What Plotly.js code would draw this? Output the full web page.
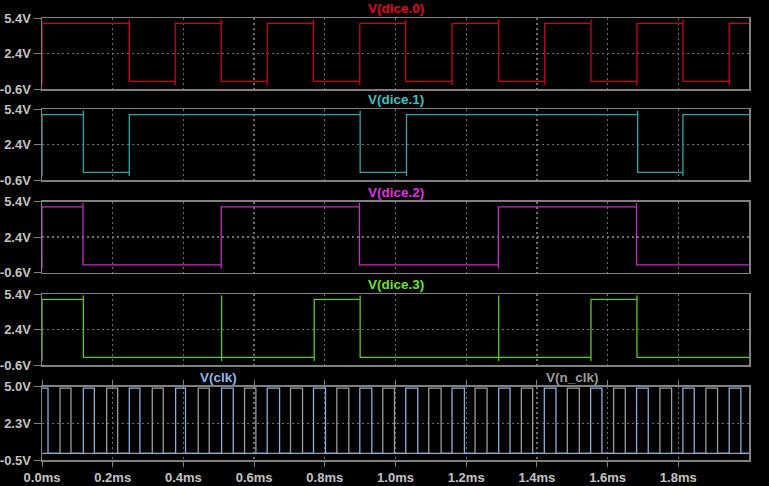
<!DOCTYPE html>
<html>
<head>
<meta charset="utf-8">
<script src="https://cdn.plot.ly/plotly-3.0.1.min.js"></script>
<style>html,body{margin:0;padding:0;background:#000;}#chart{width:769px;height:486px;}</style>
</head>
<body>
<div id="chart"></div>
<script>
// ---- data (times in ms, volts) ----
const xTickVals = [0.0, 0.2, 0.4, 0.6, 0.8, 1.0, 1.2, 1.4, 1.6, 1.8];
const xTickText = ["0.0ms", "0.2ms", "0.4ms", "0.6ms", "0.8ms", "1.0ms", "1.2ms", "1.4ms", "1.6ms", "1.8ms"];
const diceTickVals = [-0.6, 2.4, 5.4];
const diceTickText = ["-0.6V", "2.4V", "5.4V"];
const clkTickVals = [-0.5, 2.25, 5.0];
const clkTickText = ["-0.5V", "2.3V", "5.0V"];

const diceHigh = 4.95;
const diceLow = 0.05;
const clkHigh = 4.9;
const clkLow = 0.0;

// edges where each dice bit toggles (all start high)
const dice0Edges = [0.247, 0.377, 0.507, 0.637, 0.768, 0.899, 1.029, 1.160, 1.292, 1.422, 1.553, 1.683, 1.813, 1.944];
const dice1Edges = [0.117, 0.247, 0.900, 1.031, 1.685, 1.813];
const dice2Edges = [0.116, 0.507, 0.898, 1.291, 1.682];
const dice3Edges = [0.117, 0.770, 0.900, 1.553, 1.683];
const dice3Glitches = [0.508, 1.292];

// clock pulses
const clkRise = [0.0, 0.117, 0.247, 0.378, 0.508, 0.637, 0.768, 0.899, 1.029, 1.160, 1.292, 1.421, 1.552, 1.682, 1.813, 1.944];
const clkFall = [0.017, 0.148, 0.277, 0.406, 0.541, 0.672, 0.802, 0.933, 1.063, 1.195, 1.324, 1.454, 1.584, 1.715, 1.845, 1.977];
const nclkRise = [0.051, 0.183, 0.312, 0.442, 0.573, 0.703, 0.834, 0.964, 1.094, 1.225, 1.356, 1.486, 1.617, 1.748, 1.878];
const nclkFall = [0.082, 0.214, 0.343, 0.473, 0.605, 0.737, 0.868, 0.997, 1.129, 1.259, 1.388, 1.520, 1.650, 1.781, 1.911];

const tEnd = 2.0;
const spike = 0.32;

function diceWave(edges, glitches) {
  const x = [0, 0], y = [diceLow - spike, diceHigh];
  let high = true;
  const events = edges.map(t => ({t, g: false})).concat((glitches || []).map(t => ({t, g: true})));
  events.sort((a, b) => a.t - b.t);
  for (const e of events) {
    const cur = high ? diceHigh : diceLow;
    if (e.g) {
      x.push(e.t, e.t, e.t, e.t);
      y.push(cur, diceHigh + spike, diceLow - spike, cur);
      continue;
    }
    const next = high ? diceLow : diceHigh;
    const over = high ? cur + spike : cur - spike;
    x.push(e.t, e.t, e.t);
    y.push(cur, over, next);
    high = !high;
  }
  x.push(tEnd);
  y.push(high ? diceHigh : diceLow);
  return {x, y};
}

function clkWave(rise, fall, startHigh) {
  const x = [], y = [];
  if (!startHigh) { x.push(0); y.push(clkLow); }
  for (let i = 0; i < rise.length; i++) {
    x.push(rise[i], rise[i], fall[i], fall[i]);
    y.push(clkLow, clkHigh, clkHigh, clkLow);
  }
  x.push(tEnd); y.push(clkLow);
  if (startHigh) { x[0] = 0; y[0] = clkHigh; }
  return {x, y};
}

const H = 486;
const panels = [[18, 89], [109.3, 180], [201.5, 272.5], [294, 365], [386.7, 460]];
const dom = panels.map(p => [1 - p[1] / H, 1 - p[0] / H]);

const fontFam = '"Liberation Sans", Arial, sans-serif';
const grid = '#6e6e6e';
const frame = '#808080';
const tickCol = '#c4c4c4';

const d0 = diceWave(dice0Edges);
const d1 = diceWave(dice1Edges);
const d2 = diceWave(dice2Edges);
const d3 = diceWave(dice3Edges, dice3Glitches);
const ck = clkWave(clkRise, clkFall, true);
const nck = clkWave(nclkRise, nclkFall, false);

const lw = 1.3;
const traces = [
  {x: d0.x, y: d0.y, yaxis: 'y', line: {color: '#c8001e', width: lw}},
  {x: d1.x, y: d1.y, yaxis: 'y2', line: {color: '#2aa8a8', width: lw}},
  {x: d2.x, y: d2.y, yaxis: 'y3', line: {color: '#c42cc4', width: lw}},
  {x: d3.x, y: d3.y, yaxis: 'y4', line: {color: '#5cc820', width: lw}},
  {x: nck.x, y: nck.y, yaxis: 'y5', line: {color: '#9c9c9c', width: lw}},
  {x: ck.x, y: ck.y, yaxis: 'y5', line: {color: '#88b0dc', width: lw}}
].map(t => Object.assign({type: 'scatter', mode: 'lines', xaxis: 'x', hoverinfo: 'skip', showlegend: false}, t));

function yax(i, vals, text, range) {
  return {
    domain: dom[i], range: range, anchor: 'x',
    tickvals: vals, ticktext: text, ticks: 'outside', ticklen: 7, tickcolor: frame,
    showline: true, linecolor: frame, linewidth: 1.5, mirror: true,
    showgrid: true, gridcolor: grid, griddash: '2px,3px', gridwidth: 1.3,
    zeroline: false, fixedrange: true,
    tickfont: {family: fontFam, size: 13, color: tickCol, weight: 'bold'}
  };
}

const layout = {
  width: 769, height: 486,
  paper_bgcolor: '#000', plot_bgcolor: '#000',
  margin: {l: 42, r: 20, t: 0, b: 0},
  showlegend: false,
  xaxis: {
    domain: [0, 1], range: [0, tEnd], anchor: 'y5',
    tickvals: xTickVals, ticktext: xTickText, ticks: 'outside', ticklen: 5, tickcolor: frame,
    showline: true, linecolor: frame, linewidth: 1.5, mirror: 'all',
    showgrid: true, gridcolor: grid, griddash: '2px,3px', gridwidth: 1.3,
    zeroline: false, fixedrange: true,
    tickfont: {family: fontFam, size: 13, color: tickCol, weight: 'bold'}
  },
  yaxis: yax(0, diceTickVals, diceTickText, [-0.6, 5.4]),
  yaxis2: yax(1, diceTickVals, diceTickText, [-0.6, 5.4]),
  yaxis3: yax(2, diceTickVals, diceTickText, [-0.6, 5.4]),
  yaxis4: yax(3, diceTickVals, diceTickText, [-0.6, 5.4]),
  yaxis5: yax(4, clkTickVals, clkTickText, [-0.5, 5.0]),
  annotations: [
    {text: 'V(dice.0)', x: 395.5, y: 8.5, color: '#e8001e'},
    {text: 'V(dice.1)', x: 395.5, y: 100, color: '#3cc0c0'},
    {text: 'V(dice.2)', x: 395.5, y: 192, color: '#e030e0'},
    {text: 'V(dice.3)', x: 395.5, y: 284.5, color: '#6ee02a'},
    {text: 'V(clk)', x: 218.5, y: 377, color: '#8cb8ec'},
    {text: 'V(n_clk)', x: 572.5, y: 377, color: '#9c9c9c'}
  ].map(a => ({
    text: a.text, xref: 'paper', yref: 'paper',
    x: (a.x - 42) / 707, y: 1 - a.y / H, xanchor: 'center', yanchor: 'middle',
    showarrow: false, font: {family: fontFam, size: 13.5, color: a.color, weight: 'bold'}
  }))
};

Plotly.newPlot('chart', traces, layout, {staticPlot: true, displayModeBar: false});
</script>
</body>
</html>
